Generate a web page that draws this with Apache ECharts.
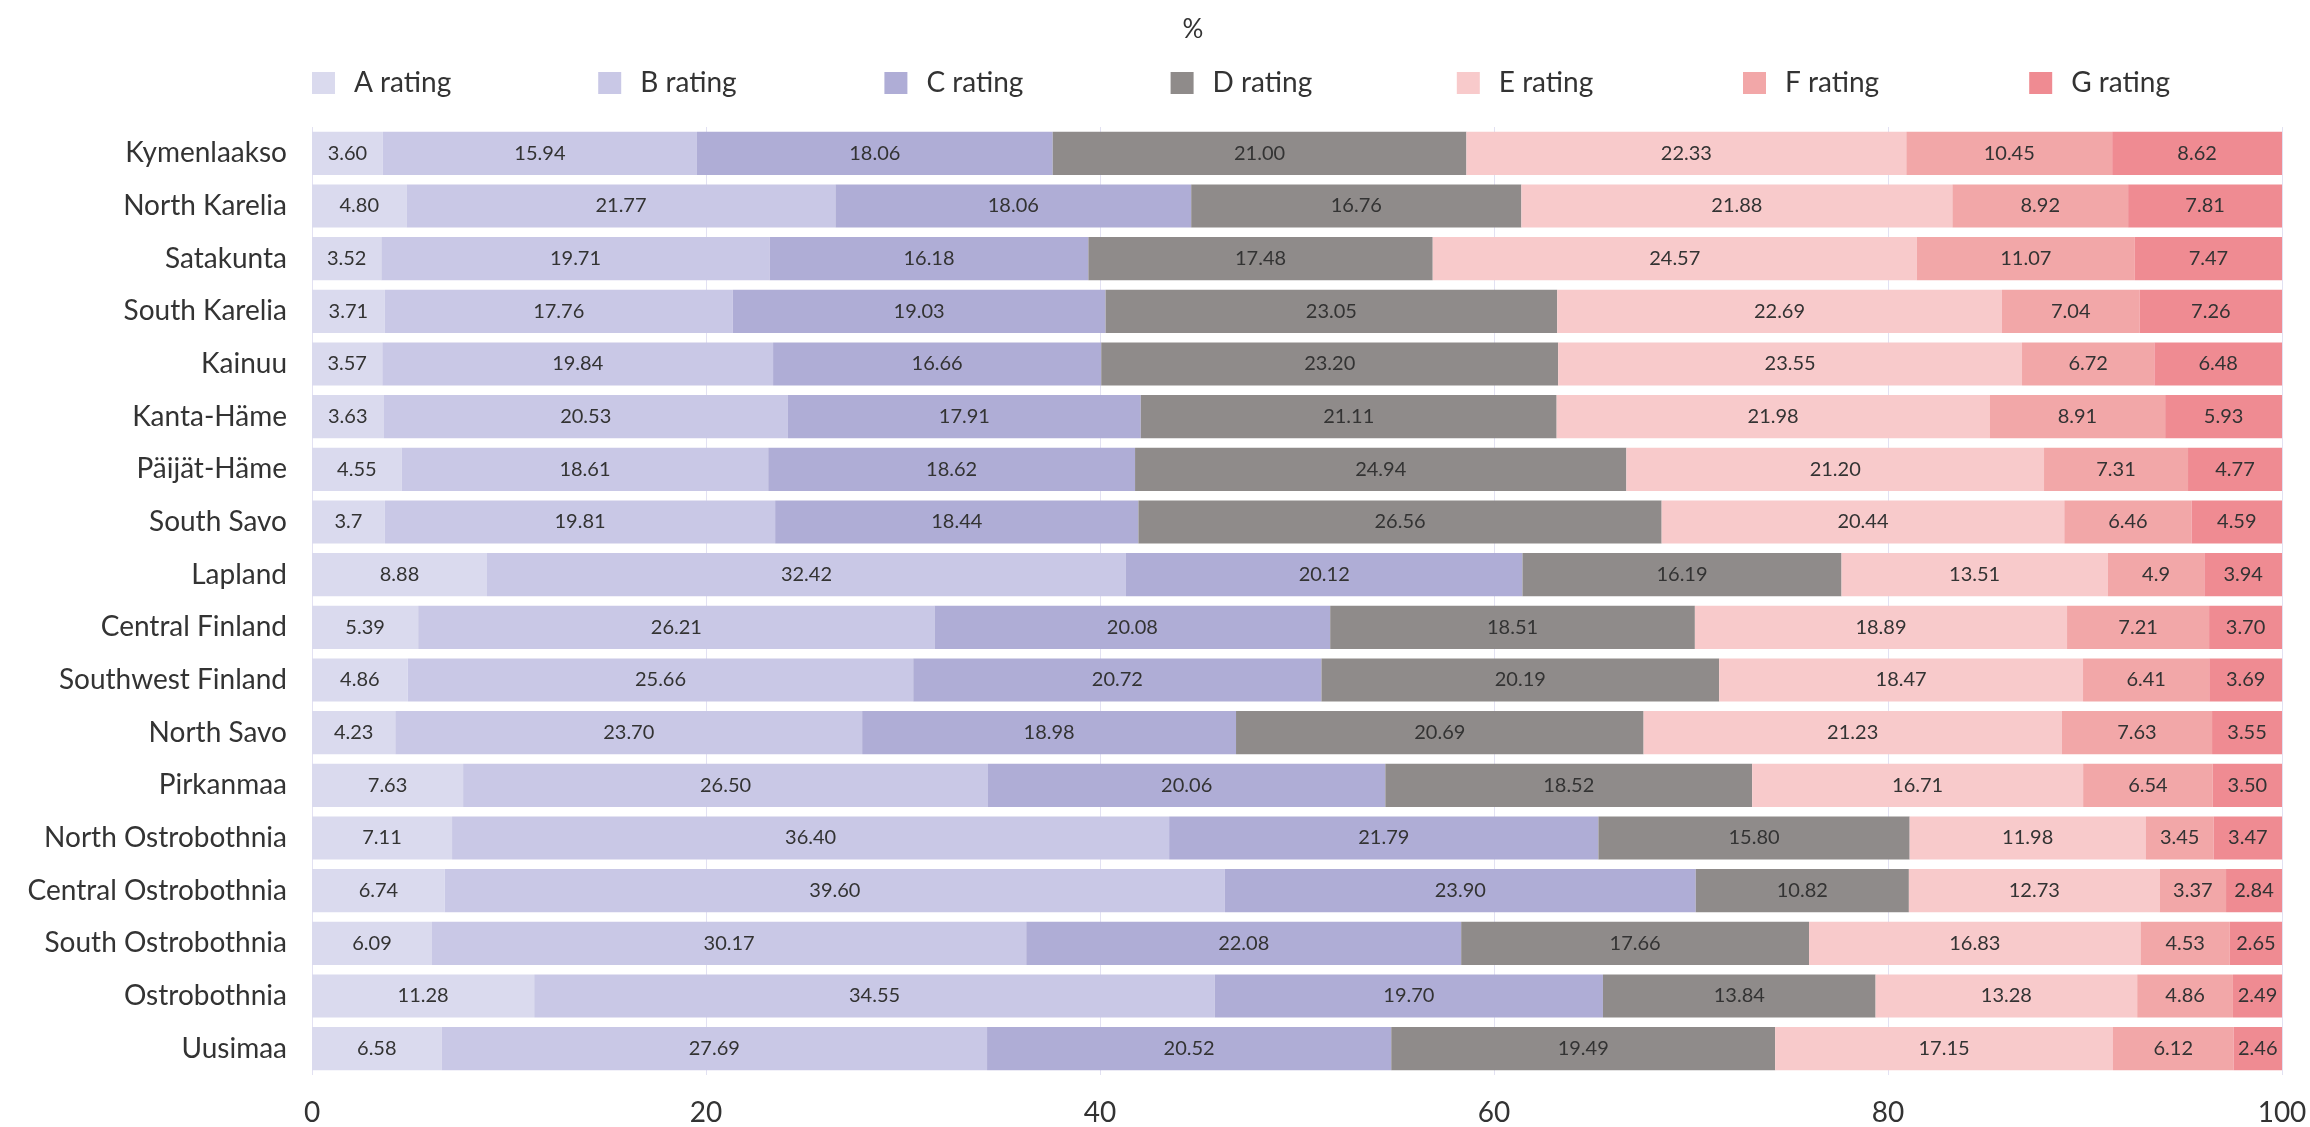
<!DOCTYPE html>
<html>
<head>
<meta charset="utf-8">
<script src="https://cdn.jsdelivr.net/npm/echarts@6/dist/echarts.min.js"></script>
<style>
html,body{margin:0;padding:0;background:#fff;}
#chart{width:2310px;height:1127px;}
</style>
</head>
<body>
<div id="chart"></div>
<script>
const categories = ["Kymenlaakso","North Karelia","Satakunta","South Karelia","Kainuu","Kanta-Häme","Päijät-Häme","South Savo","Lapland","Central Finland","Southwest Finland","North Savo","Pirkanmaa","North Ostrobothnia","Central Ostrobothnia","South Ostrobothnia","Ostrobothnia","Uusimaa"];
const seriesNames = ["A rating","B rating","C rating","D rating","E rating","F rating","G rating"];
const aRating = ["3.60","4.80","3.52","3.71","3.57","3.63","4.55","3.7","8.88","5.39","4.86","4.23","7.63","7.11","6.74","6.09","11.28","6.58"];
const bRating = ["15.94","21.77","19.71","17.76","19.84","20.53","18.61","19.81","32.42","26.21","25.66","23.70","26.50","36.40","39.60","30.17","34.55","27.69"];
const cRating = ["18.06","18.06","16.18","19.03","16.66","17.91","18.62","18.44","20.12","20.08","20.72","18.98","20.06","21.79","23.90","22.08","19.70","20.52"];
const dRating = ["21.00","16.76","17.48","23.05","23.20","21.11","24.94","26.56","16.19","18.51","20.19","20.69","18.52","15.80","10.82","17.66","13.84","19.49"];
const eRating = ["22.33","21.88","24.57","22.69","23.55","21.98","21.20","20.44","13.51","18.89","18.47","21.23","16.71","11.98","12.73","16.83","13.28","17.15"];
const fRating = ["10.45","8.92","11.07","7.04","6.72","8.91","7.31","6.46","4.9","7.21","6.41","7.63","6.54","3.45","3.37","4.53","4.86","6.12"];
const gRating = ["8.62","7.81","7.47","7.26","6.48","5.93","4.77","4.59","3.94","3.70","3.69","3.55","3.50","3.47","2.84","2.65","2.49","2.46"];
const xTicks = [0,20,40,60,80,100];

const allData = [aRating,bRating,cRating,dRating,eRating,fRating,gRating];
const colors = ["#dadaee","#c9c8e6","#afadd6","#8f8b8a","#f8cacb","#f2a7a8","#ef8b92"];
const FONT = "Lato";

// percent stacking: each row is scaled to its own total (as in the reference)
const rowTotals = categories.map((_, j) => allData.reduce((s, arr) => s + Number(arr[j]), 0));

const legends = seriesNames.map((name, i) => ({
  data:[name], left:312 + i*286.2, top:69, padding:0,
  itemWidth:23, itemHeight:22, icon:'rect',
  textStyle:{fontFamily:FONT,fontSize:28,color:'#333',padding:[0,0,0,14]}
}));

const chart = echarts.init(document.getElementById('chart'));
chart.setOption({
  animation:false,
  textStyle:{fontFamily:FONT},
  title:{text:'%',left:1188,top:12,textAlign:'center',textStyle:{fontFamily:FONT,fontSize:26,fontWeight:'normal',color:'#333'}},
  legend:legends,
  grid:{left:312,right:28,top:127,bottom:52,containLabel:false},
  xAxis:{
    type:'value',min:0,max:100,interval:20,
    axisLine:{show:false},axisTick:{show:false},
    axisLabel:{fontFamily:FONT,fontSize:28,color:'#333',margin:24,
      formatter:v=>xTicks.includes(v)?String(v):''},
    splitLine:{show:true,lineStyle:{color:'#e2e1f2',width:1}}
  },
  yAxis:{
    type:'category',data:categories,inverse:true,
    axisLine:{show:false},axisTick:{show:false},
    axisLabel:{fontFamily:FONT,fontSize:28,color:'#333',margin:25}
  },
  series:seriesNames.map((name,i)=>({
    name:name,type:'bar',stack:'total',barCategoryGap:'18%',
    itemStyle:{color:colors[i]},
    label:{show:true,position:'inside',fontFamily:FONT,fontSize:20,color:'#333',
      formatter:p=>allData[i][p.dataIndex]},
    data:allData[i].map((v,j)=>Number(v)/rowTotals[j]*100)
  }))
});
</script>
</body>
</html>
